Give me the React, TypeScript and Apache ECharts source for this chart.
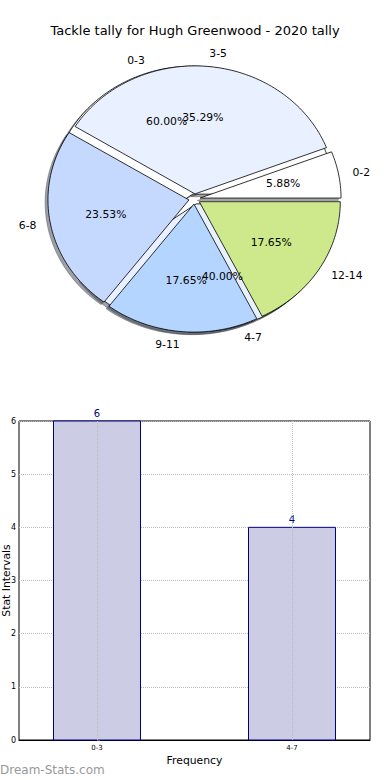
import React, { useEffect, useRef } from "react";
import * as echarts from "echarts";

const titleText = "Tackle tally for Hugh Greenwood - 2020 tally";

// Outer pie (drawn on top)
const pieACategories = ["0-2", "3-5", "6-8", "9-11", "12-14"];
const pieAValues = [1, 6, 4, 3, 3];
const pieAColors = ["#ffffff", "#e9f0ff", "#c5d9ff", "#b4d5ff", "#cde98b"];

// Second pie (drawn underneath)
const pieBCategories = ["0-3", "4-7"];
const pieBValues = [6, 4];
const pieBColors = ["#ffffff", "#e9f0ff"];

// Bar chart
const barCategories = ["0-3", "4-7"];
const barValues = [6, 4];
const yTickMin = 0;
const yTickMax = 6;

const FONT = "DejaVu Sans";
const BAR_WIDTH = 0.446; // in category units

// Pie geometry (layout)
const CX = 194.5;
const CY = 199;
const RX = 141;
const RY = 128;
const EXPLODE = 0.04;
const SHADOW = 0.02;

function wedgeAngles(values: number[]) {
  const total = values.reduce((a, b) => a + b, 0);
  let acc = 0;
  return values.map((v) => {
    const a0 = (acc / total) * 360;
    acc += v;
    return [a0, (acc / total) * 360];
  });
}

function wedgePoints(a0: number, a1: number, sx: number, sy: number) {
  const mid = ((a0 + a1) / 2) * (Math.PI / 180);
  const ox = CX + EXPLODE * RX * Math.cos(mid) + sx;
  const oy = CY - EXPLODE * RY * Math.sin(mid) + sy;
  const pts: number[][] = [[ox, oy]];
  const steps = Math.max(4, Math.ceil((a1 - a0) / 1.5));
  for (let k = 0; k <= steps; k++) {
    const t = ((a0 + ((a1 - a0) * k) / steps) * Math.PI) / 180;
    pts.push([ox + RX * Math.cos(t), oy - RY * Math.sin(t)]);
  }
  return pts;
}

function shadowColor(hex: string) {
  const r = parseInt(hex.slice(1, 3), 16) * 0.3;
  const g = parseInt(hex.slice(3, 5), 16) * 0.3;
  const b = parseInt(hex.slice(5, 7), 16) * 0.3;
  return `rgba(${Math.round(r)},${Math.round(g)},${Math.round(b)},0.5)`;
}

function shadowSeries(values: number[], colors: string[], z: number) {
  const angles = wedgeAngles(values);
  return {
    type: "custom",
    coordinateSystem: "none",
    silent: true,
    z,
    data: values.map((v, i) => [i, v]),
    renderItem: (params: any) => {
      const i = params.dataIndex;
      const [a0, a1] = angles[i];
      const c = shadowColor(colors[i]);
      return {
        type: "polygon",
        shape: { points: wedgePoints(a0, a1, -SHADOW * RX, SHADOW * RY) },
        style: { fill: c, stroke: c, lineWidth: 0.8 },
      };
    },
  };
}

function wedgeSeries(values: number[], colors: string[], z: number) {
  const angles = wedgeAngles(values);
  return {
    type: "custom",
    coordinateSystem: "none",
    silent: true,
    z,
    data: values.map((v, i) => [i, v]),
    renderItem: (params: any) => {
      const i = params.dataIndex;
      const [a0, a1] = angles[i];
      return {
        type: "polygon",
        shape: { points: wedgePoints(a0, a1, 0, 0) },
        style: { fill: colors[i], stroke: "#000", lineWidth: 0.8 },
      };
    },
  };
}

function labelSeries(values: number[], names: string[], z: number) {
  const angles = wedgeAngles(values);
  const total = values.reduce((a, b) => a + b, 0);
  return {
    type: "custom",
    coordinateSystem: "none",
    silent: true,
    z,
    data: values.map((v, i) => [i, v]),
    renderItem: (params: any) => {
      const i = params.dataIndex;
      const [a0, a1] = angles[i];
      const mid = ((a0 + a1) / 2) * (Math.PI / 180);
      const c = Math.cos(mid);
      const s = Math.sin(mid);
      const ld = 1.1 + EXPLODE;
      const pd = 0.6 + EXPLODE;
      const pct = ((values[i] / total) * 100).toFixed(2) + "%";
      return {
        type: "group",
        children: [
          {
            type: "text",
            x: CX + ld * RX * c,
            y: CY - ld * RY * s,
            style: {
              text: names[i],
              fill: "#000",
              font: `10.8px "${FONT}"`,
              textAlign: c >= 0 ? "left" : "right",
              textVerticalAlign: "middle",
            },
          },
          {
            type: "text",
            x: CX + pd * RX * c,
            y: CY - pd * RY * s,
            style: {
              text: pct,
              fill: "#000",
              font: `10.8px "${FONT}"`,
              textAlign: "center",
              textVerticalAlign: "middle",
            },
          },
        ],
      };
    },
  };
}

export default function App() {
  const ref = useRef<HTMLDivElement>(null);
  useEffect(() => {
    if (!ref.current) return;
    const chart = echarts.init(ref.current, null, { renderer: "svg" });
    const option: any = {
      animation: false,
      backgroundColor: "#ffffff",
      textStyle: { fontFamily: FONT },
      title: {
        text: titleText,
        left: "center",
        top: 19,
        textStyle: { fontFamily: FONT, fontSize: 13, fontWeight: "normal", color: "#000" },
      },
      graphic: [
        {
          type: "text",
          left: 0,
          top: 764,
          style: { text: "Dream-Stats.com", fill: "#999999", font: `12px "${FONT}"` },
        },
      ],
      grid: {
        left: 19,
        right: 20,
        top: 421,
        bottom: 40,
        show: true,
        borderColor: "#000",
        borderWidth: 1,
        backgroundColor: "transparent",
        containLabel: false,
        outerBoundsMode: "none",
      },
      xAxis: {
        type: "value",
        min: -0.4,
        max: 1.4,
        interval: 0.2,
        name: "Frequency",
        nameLocation: "middle",
        nameGap: 15,
        nameMoveOverlap: false,
        nameTextStyle: { fontFamily: FONT, fontSize: 10.8, color: "#000" },
        axisLine: { show: true, lineStyle: { color: "#000", width: 1 } },
        axisTick: { show: false },
        splitLine: { show: false },
        axisLabel: {
          customValues: barCategories.map((_, i) => i),
          formatter: (v: number) => barCategories[Math.round(v)] ?? "",
          fontFamily: FONT,
          fontSize: 7,
          color: "#000",
          margin: 4,
        },
      },
      yAxis: {
        type: "value",
        min: yTickMin,
        max: yTickMax,
        interval: 1,
        name: "Stat Intervals",
        nameLocation: "middle",
        nameRotate: 90,
        nameGap: 7,
        nameMoveOverlap: false,
        nameTextStyle: { fontFamily: FONT, fontSize: 10.8, color: "#000" },
        axisLine: { show: true, lineStyle: { color: "#000", width: 1 } },
        axisTick: { show: true, inside: true, length: 3, lineStyle: { color: "#999" } },
        axisLabel: { fontFamily: FONT, fontSize: 8, color: "#000", margin: 3 },
        splitLine: { show: true, lineStyle: { color: "#bbbbbb", type: "dotted", width: 1 } },
      },
      series: [
        shadowSeries(pieBValues, pieBColors, 1),
        shadowSeries(pieAValues, pieAColors, 1),
        wedgeSeries(pieBValues, pieBColors, 2),
        wedgeSeries(pieAValues, pieAColors, 3),
        labelSeries(pieBValues, pieBCategories, 4),
        labelSeries(pieAValues, pieACategories, 4),
        {
          type: "custom",
          coordinateSystem: "cartesian2d",
          silent: true,
          z: 2,
          encode: { x: 0, y: 1 },
          data: barValues.map((v, i) => [i, v]),
          renderItem: (params: any, api: any) => {
            const xv = api.value(0);
            const yv = api.value(1);
            const tl = api.coord([xv - BAR_WIDTH / 2, yv]);
            const br = api.coord([xv + BAR_WIDTH / 2, 0]);
            const center = api.coord([xv, yv]);
            return {
              type: "group",
              children: [
                {
                  type: "rect",
                  shape: { x: tl[0], y: tl[1], width: br[0] - tl[0], height: br[1] - tl[1] },
                  style: { fill: "#cccce4", stroke: "#000080", lineWidth: 1 },
                },
                {
                  type: "text",
                  x: center[0],
                  y: center[1] - 3,
                  style: {
                    text: String(yv),
                    fill: "#000080",
                    font: `10px "${FONT}"`,
                    textAlign: "center",
                    textVerticalAlign: "bottom",
                  },
                },
              ],
            };
          },
          markLine: {
            silent: true,
            symbol: "none",
            label: { show: false },
            lineStyle: { color: "#bbbbbb", type: "dotted", width: 1 },
            data: barCategories.map((_, i) => ({ xAxis: i })),
          },
        },
      ],
    };
    chart.setOption(option);
    return () => chart.dispose();
  }, []);
  return (
    <div
      ref={ref}
      style={{ position: "fixed", left: 0, top: 0, width: 390, height: 780 }}
    />
  );
}
